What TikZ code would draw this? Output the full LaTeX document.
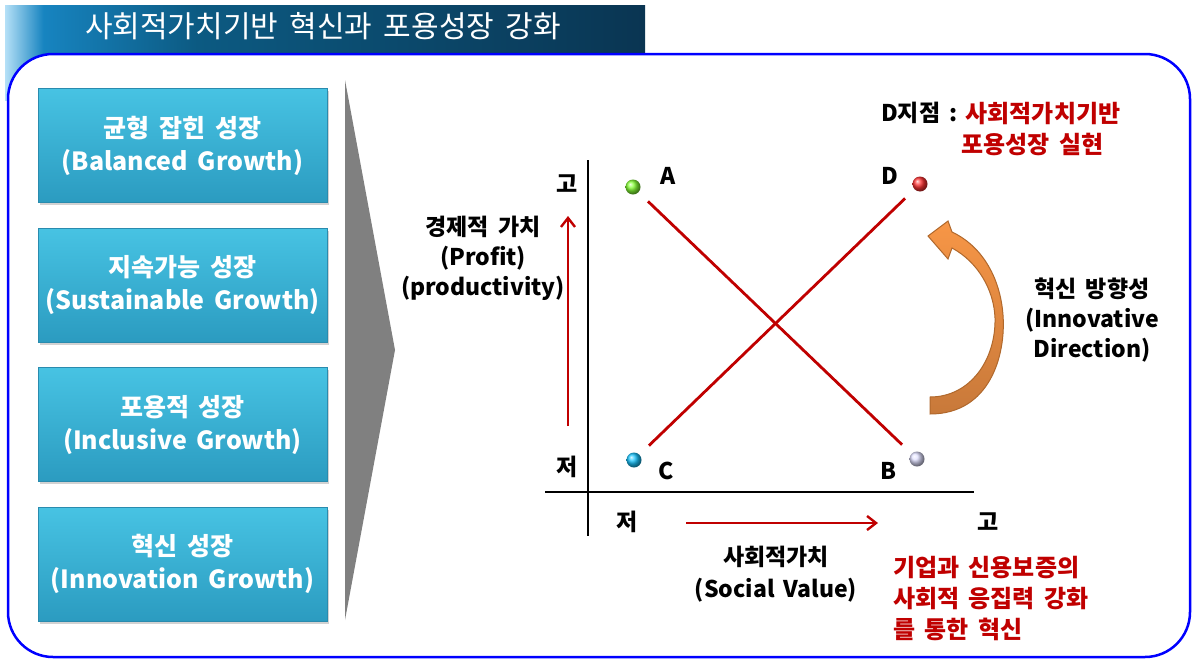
\documentclass[tikz,border=0pt]{standalone}
\usepackage{fontspec}
\setmainfont[WordSpace=1.7]{Noto Sans CJK KR}
\usetikzlibrary{positioning,arrows.meta,shadows}
\definecolor{titlelight}{HTML}{B5E0F7}
\definecolor{titlemid}{HTML}{1784C0}
\definecolor{titlenavy}{HTML}{0C5A82}
\definecolor{titledark}{HTML}{0A3552}
\definecolor{boxtop}{HTML}{47C3E3}
\definecolor{boxbot}{HTML}{2B9BC0}
\definecolor{boxedge}{HTML}{2A8BAE}
\definecolor{redtxt}{HTML}{C00000}
\definecolor{arrowtop}{HTML}{F79646}
\definecolor{arrowbot}{HTML}{C8793A}
\definecolor{arrowedge}{HTML}{B0682C}
\pgfdeclarehorizontalshading{titlebar}{100bp}{color(0bp)=(titlelight); color(25bp)=(titlelight); color(28bp)=(titlemid); color(40bp)=(titlenavy); color(75bp)=(titledark); color(100bp)=(titledark)}

\begin{document}
\begin{tikzpicture}[x=1pt, y=-1pt,
    growthbox/.style={rectangle, draw=boxedge, line width=0.6pt, top color=boxtop, bottom color=boxbot,
      minimum width=289pt, minimum height=114pt, align=center, text=white,
      font=\fontsize{25}{33}\selectfont\bfseries,
      drop shadow={shadow xshift=2pt, shadow yshift=-2.5pt, opacity=0.35}},
    axislbl/.style={font=\fontsize{23}{30}\selectfont\bfseries, align=center, inner sep=0pt},
    plainlbl/.style={font=\fontsize{23}{32}\selectfont\bfseries, align=center, inner sep=0pt},
    redlbl/.style={font=\fontsize{24}{31}\selectfont\bfseries, text=redtxt, inner sep=0pt},
    ptball/.style={circle, minimum size=15pt, inner sep=0pt},
    redline/.style={draw=redtxt, line width=2.8pt, shorten <=13pt, shorten >=13pt},
    redarrow/.style={draw=redtxt, line width=2.6pt, -{Straight Barb[length=9pt, width=14pt, line width=2.4pt]}}]
    \useasboundingbox (0,0) rectangle (1192,659);

    % Title bar and frame
    \fill[shading=titlebar] (5,5) rectangle (645,100);
    \node[text=white, font=\fontsize{30}{34}\selectfont] (title) at (323,26) {사회적가치기반 혁신과 포용성장 강화};
    \draw[blue, line width=2.5pt, fill=white, rounded corners=45pt] (8,54) rectangle (1190,657);

    % Growth boxes
    \node[growthbox] (balanced) at (182.5,145.5) {균형 잡힌 성장\\(Balanced Growth)};
    \node[growthbox, below=25pt of balanced] (sustainable) {지속가능 성장\\(Sustainable Growth)};
    \node[growthbox, below=25pt of sustainable] (inclusive) {포용적 성장\\(Inclusive Growth)};
    \node[growthbox, below=25pt of inclusive] (innovation) {혁신 성장\\(Innovation Growth)};
    \fill[gray] (345,80) -- (395,350) -- (345,620) -- cycle;

    % Axes
    \coordinate (yTop) at (588,160);
    \coordinate (yBot) at (588,536);
    \coordinate (xLeft) at (545,492);
    \coordinate (xRight) at (974,492);
    \draw[line width=2.6pt] (yTop) -- (yBot);
    \draw[line width=2.6pt] (xLeft) -- (xRight);
    \node[axislbl] (yHigh) at (567,184) {고};
    \node[axislbl] (yLow) at (567,467) {저};
    \node[axislbl] (xLow) at (627,522) {저};
    \node[axislbl] (xHigh) at (988,522) {고};

    % Points
    \node[ptball, ball color=green!60!yellow!80!white] (ptA) at (633,187) {};
    \node[ptball, ball color=red!80!white] (ptD) at (920,184) {};
    \node[ptball, ball color=cyan!75!blue!90!white] (ptC) at (634,460) {};
    \node[ptball, ball color=blue!12!white] (ptB) at (917,459) {};
    \node[axislbl] (lblA) at (668,176) {A};
    \node[axislbl] (lblD) at (890,176) {D};
    \node[axislbl] (lblC) at (666,471) {C};
    \node[axislbl] (lblB) at (888,471) {B};
    \draw[redline] (ptA) -- (ptB);
    \draw[redline] (ptC) -- (ptD);

    % Axis arrows and labels
    \coordinate (upTail) at (568,426);
    \coordinate (upHead) at (568,216);
    \coordinate (rightTail) at (686,523);
    \coordinate (rightHead) at (878,523);
    \draw[redarrow] (upTail) -- (upHead);
    \draw[redarrow] (rightTail) -- (rightHead);
    \node[axislbl] (profitLbl) at (483,258) {경제적 가치\\(Profit)\\(productivity)};
    \node[plainlbl] (socialLbl) at (776,574) {사회적가치\\(Social Value)};
    \node[redlbl, align=left, anchor=west] (cohesion) at (893,599) {기업과 신용보증의\\사회적 응집력 강화\\를 통한 혁신};
    \node[axislbl, anchor=west] (dpoint) at (881,113) {D지점 :};
    \node[redlbl, align=left, anchor=north west] (dgoal) at ([xshift=8pt]dpoint.north east) {사회적가치기반\\\hspace*{-4pt}포용성장 실현};

    % Innovation direction
    \shade[top color=arrowtop, bottom color=arrowbot, draw=arrowedge, line width=1pt]
      (930,414) .. controls (990,414) and (1006,355) .. (1003,315)
      .. controls (1000,275) and (980,245) .. (952,232) -- (948,221) -- (928,236) -- (948,259) -- (952,248)
      .. controls (978,262) and (994,290) .. (995,318)
      .. controls (996,360) and (970,397) .. (930,397) -- cycle;
    \node[axislbl] (innovLbl) at (1092,320) {혁신 방향성\\(Innovative\\Direction)};
  \end{tikzpicture}
\end{document}
